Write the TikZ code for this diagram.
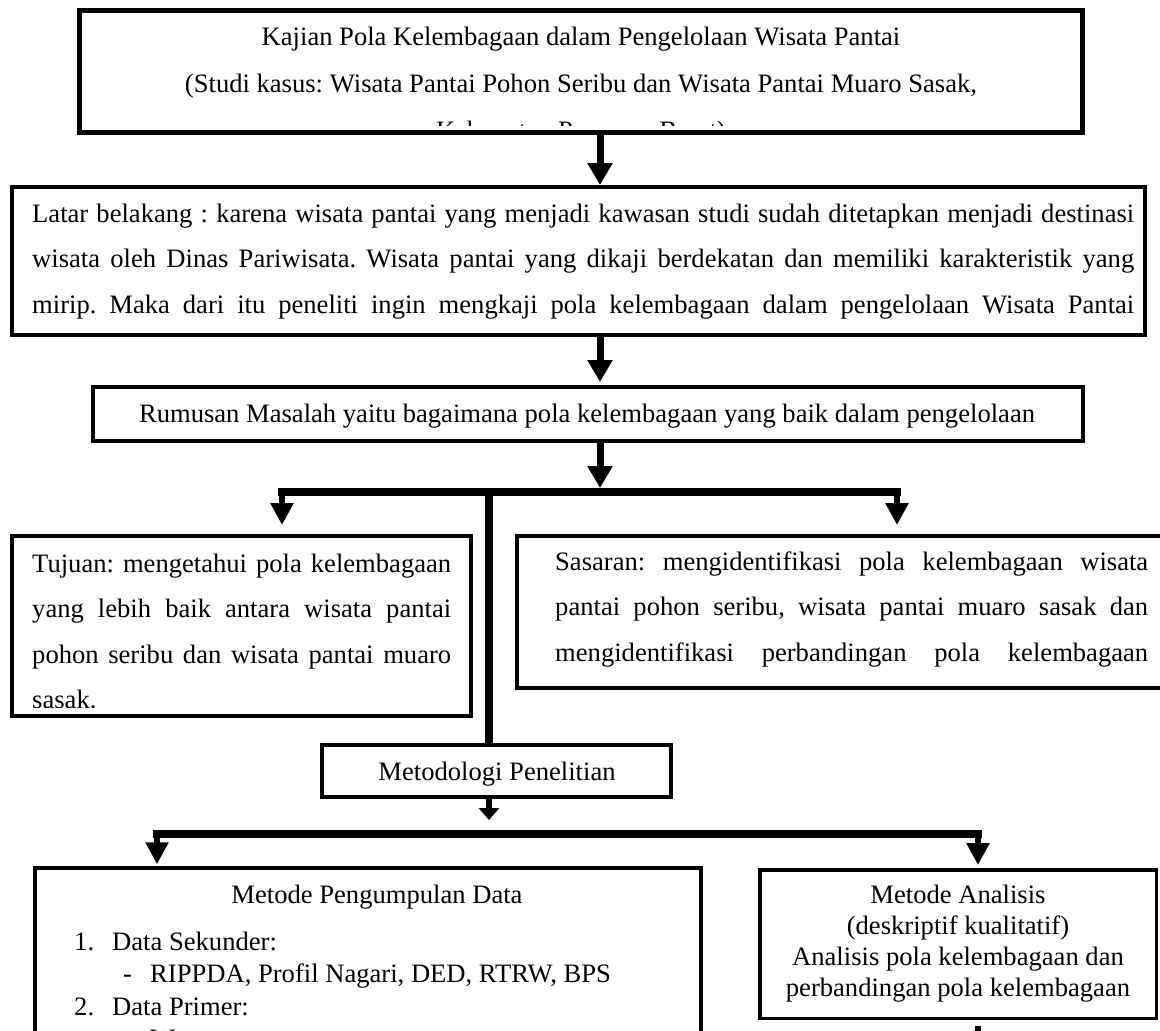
\documentclass[tikz,border=0pt]{standalone}
\usepackage{fontspec}
\setmainfont{Liberation Serif}
\usetikzlibrary{arrows.meta}
\frenchspacing

\newcommand\nsp{\spaceskip=.25em\xspaceskip=.25em\relax}
\newcommand\jl[2]{{\spaceskip=.25em plus .6em minus .08em\makebox[#1][s]{#2}}\par}

\tikzset{
  box/.style={draw, line width=4pt, inner sep=0pt},
  txt/.style={inner sep=0pt, font=\fontsize{26.6pt}{45.5pt}\selectfont},
  arr/.style={line width=7pt, -{Triangle[width=24pt,length=22pt]}},
  drop/.style={line width=6pt, -{Triangle[width=22pt,length=22pt]}},
  bar/.style={line width=8pt, line cap=rect, preaction={draw=black!20, transform canvas={yshift=-3pt}}},
}

\begin{document}
\begin{tikzpicture}[x=1pt,y=-1pt]
\useasboundingbox (0,0) rectangle (1160,1031);
\clip (0,0) rectangle (1160,1031);

\node[box, line width=5pt, minimum width=1003pt, minimum height=122pt](kaj) at (581,71.5){};
\node[box, minimum width=1133pt, minimum height=148pt](lat) at (578.5,261){};
\node[box, minimum width=990pt, minimum height=54pt](rum) at (588,414){};
\node[box, minimum width=459pt, minimum height=180pt](tuj) at (241.5,626){};
\node[box, minimum width=663pt, minimum height=152pt](sas) at (848.5,612){};
\node[box, line width=4.5pt, minimum width=349pt, minimum height=52pt](met) at (496.5,771){};
\node[box, line width=3.5pt, minimum width=666pt, minimum height=202pt](peng) at (368,969){};
\node[box, line width=3.5pt, minimum width=396.5pt, minimum height=148.5pt](ana) at (958,944){};

\begin{scope}
\clip (82,13) rectangle (1080,125);
\node[txt, anchor=base, text width=1000pt, align=center, font=\fontsize{26.6pt}{47pt}\selectfont](kajt) at (581,45){\nsp Kajian Pola Kelembagaan dalam Pengelolaan Wisata Pantai\\(Studi kasus: Wisata Pantai Pohon Seribu dan Wisata Pantai Muaro Sasak,\\Kabupaten Pasaman Barat)};
\end{scope}
\node[txt, anchor=base west, text width=1102pt](latt) at (32,222){\jl{1102pt}{Latar belakang : karena wisata pantai yang menjadi kawasan studi sudah ditetapkan menjadi destinasi}\jl{1102pt}{wisata oleh Dinas Pariwisata. Wisata pantai yang dikaji berdekatan dan memiliki karakteristik yang}\jl{1102pt}{mirip. Maka dari itu peneliti ingin mengkaji pola kelembagaan dalam pengelolaan Wisata Pantai}};
\node[txt, anchor=base](rumt) at (587,422){Rumusan Masalah yaitu bagaimana pola kelembagaan yang baik dalam pengelolaan};
\begin{scope}
\clip (14,538) rectangle (469,707);
\node[txt, anchor=base west, text width=419pt](tujt) at (32,572){\jl{419pt}{Tujuan: mengetahui pola kelembagaan}\jl{419pt}{yang lebih baik antara wisata pantai}\jl{419pt}{pohon seribu dan wisata pantai muaro}sasak.};
\end{scope}
\node[txt, anchor=base west, text width=593pt](sast) at (555,570){\jl{593pt}{Sasaran: mengidentifikasi pola kelembagaan wisata}\jl{593pt}{pantai pohon seribu, wisata pantai muaro sasak dan}\jl{593pt}{mengidentifikasi perbandingan pola kelembagaan}};
\node[txt, anchor=base](mett) at (497,780){Metodologi Penelitian};
\node[txt, anchor=base](pengt) at (377,903){Metode Pengumpulan Data};
\node[txt, anchor=base west, text width=560pt, font=\fontsize{26.6pt}{32.5pt}\selectfont](listt) at (74,950){\nsp\makebox[38pt][l]{1.}Data Sekunder:\par\leavevmode\hspace*{49pt}\makebox[27pt][l]{-}RIPPDA, Profil Nagari, DED, RTRW, BPS\par\makebox[38pt][l]{2.}Data Primer:\par\leavevmode\hspace*{49pt}\makebox[27pt][l]{-}W};
\node[txt, anchor=base, text width=400pt, align=center, font=\fontsize{26.6pt}{31pt}\selectfont](anat) at (958,903){\nsp Metode Analisis\\(deskriptif kualitatif)\\Analisis pola kelembagaan dan\\perbandingan pola kelembagaan};

\coordinate (ax) at (600,0);
\coordinate (bl) at (282,492);
\coordinate (br) at (897,492);
\coordinate (tr) at (489,492);
\coordinate (ll) at (157,834);
\coordinate (lm) at (489,834);
\coordinate (lr) at (978,834);
\coordinate (st) at (978,1040);

\draw[arr] (ax |- kaj.south) -- (ax |- lat.north);
\draw[arr, shorten >=3pt] (ax |- lat.south) -- (ax |- rum.north);
\draw[arr, shorten >=4pt] (ax |- rum.south) -- (ax |- bl);
\draw[bar] (bl) -- (br);
\draw[drop, shorten >=9pt] (bl) -- (bl |- tuj.north);
\draw[drop, shorten >=9pt] (br) -- (br |- sas.north);
\draw[line width=8pt] (tr) -- (tr |- met.north);
\draw[line width=6pt, -{Triangle[width=20pt,length=12pt]}, shorten >=14pt] (lm |- met.south) -- (lm);
\draw[bar] (ll) -- (lr);
\draw[drop, shorten >=2pt] (ll) -- (ll |- peng.north);
\draw[drop, shorten >=3pt] (lr) -- (lr |- ana.north);
\draw[line width=6pt] ([yshift=-6pt]st |- ana.south) -- (st);
\end{tikzpicture}
\end{document}
